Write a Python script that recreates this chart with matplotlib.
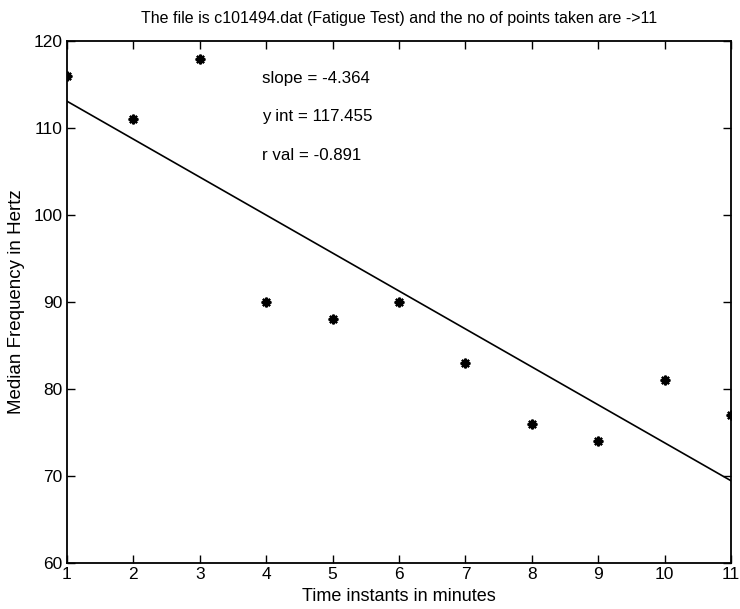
import matplotlib
matplotlib.use("Agg")
import matplotlib.pyplot as plt
import numpy as np

plt.rcParams['font.family'] = ['Liberation Sans', 'DejaVu Sans']

minutes = [1, 2, 3, 4, 5, 6, 7, 8, 9, 10, 11]
median_freq = [116, 111, 118, 90, 88, 90, 83, 76, 74, 81, 77]
slope = -4.364
y_int = 117.455
r_val = -0.891
x_ticks = list(range(1, 12))
y_ticks = [60, 70, 80, 90, 100, 110, 120]

fig = plt.figure(figsize=(7.4, 6.09), dpi=100)
ax = fig.add_axes([0.0905, 0.0755, 0.8975, 0.857])

ax.plot(minutes, median_freq, linestyle='none', marker=(8, 2, 0), markersize=7,
        color='black', markeredgewidth=1.6, clip_on=True)
xs = np.array([minutes[0], minutes[-1]], dtype=float)
ax.plot(xs, slope * xs + y_int, color='black', linewidth=1.2)

ax.set_xlim(1, 11)
ax.set_ylim(60, 120)
ax.set_xticks(x_ticks)
ax.set_yticks(y_ticks)
ax.tick_params(direction='in', top=True, right=True, length=6, width=1,
               labelsize=12.5, pad=3)
for s in ax.spines.values():
    s.set_linewidth(1.3)

ax.text(3.94, 115.7, f"slope = {slope}", fontsize=12.2, va='center', ha='left')
ax.text(3.94, 111.3, f"y int = {y_int}", fontsize=12.2, va='center', ha='left')
ax.text(3.94, 106.9, f"r val = {r_val}", fontsize=12.2, va='center', ha='left')

ax.set_title("The file is c101494.dat (Fatigue Test) and the no of points taken are ->11",
             fontsize=11.5, pad=13)
ax.set_xlabel("Time instants in minutes", fontsize=13, labelpad=4)
ax.set_ylabel("Median Frequency in Hertz", fontsize=13.5, labelpad=6)

fig.savefig("out.png", dpi=100)
